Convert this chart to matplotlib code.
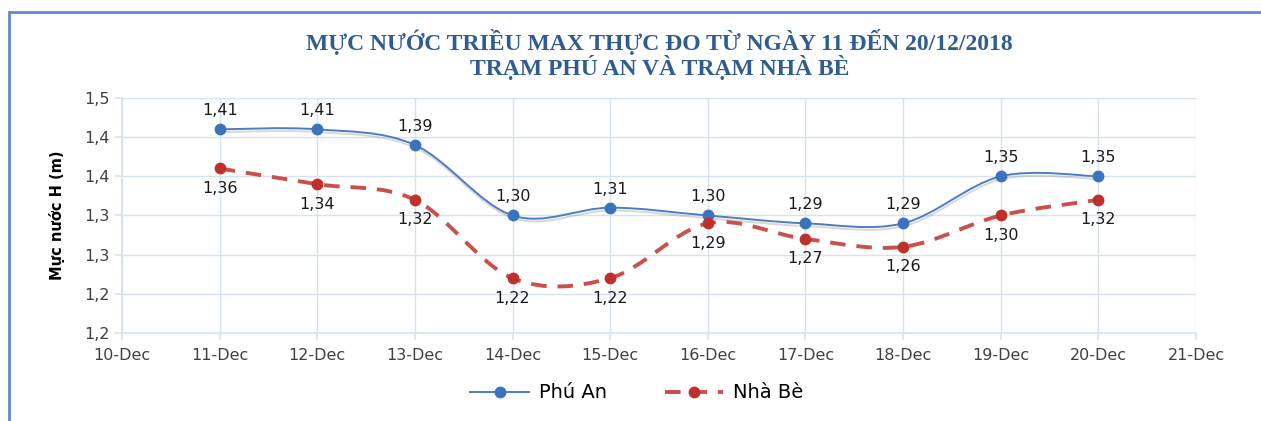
import matplotlib
matplotlib.use("Agg")
import matplotlib.pyplot as plt
import matplotlib.patheffects as pe
from matplotlib.lines import Line2D
from matplotlib.patches import PathPatch, Rectangle
from matplotlib.path import Path

days = [11, 12, 13, 14, 15, 16, 17, 18, 19, 20]
phu_an = [1.41, 1.41, 1.39, 1.30, 1.31, 1.30, 1.29, 1.29, 1.35, 1.35]
nha_be = [1.36, 1.34, 1.32, 1.22, 1.22, 1.29, 1.27, 1.26, 1.30, 1.32]
x_ticks = list(range(10, 22))
x_labels = [f"{d}-Dec" for d in x_ticks]
y_ticks = [1.15, 1.20, 1.25, 1.30, 1.35, 1.40, 1.45]
y_labels = ["1,2", "1,2", "1,3", "1,3", "1,4", "1,4", "1,5"]

BLUE = "#4A7EC2"
BLUE_MARK = "#3B73BF"
RED = "#C9504C"
RED_MARK = "#C0302B"
GRID = "#D6E2F2"
TEXT = "#404040"


def smooth_path(xs, ys):
    # Excel-like smoothed line: cubic Bezier through every point
    pts = list(zip(xs, ys))
    verts = [pts[0]]
    codes = [Path.MOVETO]
    n = len(pts)
    for i in range(n - 1):
        p0 = pts[i - 1] if i > 0 else pts[i]
        p1 = pts[i]
        p2 = pts[i + 1]
        p3 = pts[i + 2] if i + 2 < n else pts[i + 1]
        c1 = (p1[0] + (p2[0] - p0[0]) / 6, p1[1] + (p2[1] - p0[1]) / 6)
        c2 = (p2[0] - (p3[0] - p1[0]) / 6, p2[1] - (p3[1] - p1[1]) / 6)
        verts += [c1, c2, p2]
        codes += [Path.CURVE4] * 3
    return Path(verts, codes)


def fmt(v):
    return f"{v:.2f}".replace(".", ",")


fig = plt.figure(figsize=(12.61, 4.21), dpi=100)
fig.patches.append(Rectangle((9 / 1261, -0.1), 1.2, 1 - 12 / 421 + 0.1,
                             transform=fig.transFigure, fill=False,
                             edgecolor="#5B8BD0", linewidth=2))
ax = fig.add_axes([122 / 1261, 1 - 333 / 421, (1196 - 122) / 1261, (333 - 98) / 421])

ax.set_xlim(10, 21)
ax.set_ylim(1.15, 1.45)
ax.set_xticks(x_ticks)
ax.set_xticklabels(x_labels)
ax.set_yticks(y_ticks)
ax.set_yticklabels(y_labels)
ax.grid(True, color=GRID, linewidth=1)
ax.set_axisbelow(True)
for side in ("top", "right"):
    ax.spines[side].set_visible(False)
for side in ("left", "bottom"):
    ax.spines[side].set_color(GRID)
    ax.spines[side].set_linewidth(1.2)
ax.tick_params(colors=GRID, labelcolor=TEXT, labelsize=11.5, length=5, width=1.2)
ax.tick_params(axis="x", pad=6)
ax.tick_params(axis="y", pad=4)

shadow = [pe.SimpleLineShadow(offset=(0.5, -2), shadow_color="#808080", alpha=0.3),
          pe.Normal()]
ax.add_patch(PathPatch(smooth_path(days, phu_an), fill=False, edgecolor=BLUE,
                       linewidth=1.4, path_effects=shadow, zorder=3))
ax.add_patch(PathPatch(smooth_path(days, nha_be), fill=False, edgecolor=RED,
                       linewidth=2.8, linestyle=(0, (4.0, 2.8)), zorder=3))
ax.plot(days, phu_an, "o", color=BLUE_MARK, markersize=7.5, zorder=4)
ax.plot(days, nha_be, "o", color=RED_MARK, markersize=7.5, zorder=4)

for d, v in zip(days, phu_an):
    ax.annotate(fmt(v), (d, v), xytext=(0, 8), textcoords="offset points",
                ha="center", va="bottom", fontsize=11.5, color="#1a1a1a")
for d, v in zip(days, nha_be):
    ax.annotate(fmt(v), (d, v), xytext=(0, -9), textcoords="offset points",
                ha="center", va="top", fontsize=11.5, color="#1a1a1a")

ax.set_ylabel("Mực nước H (m)", fontsize=10.5, fontweight="bold", color="black",
              labelpad=14)

fig.text(0.523, 1 - 42 / 421, "MỰC NƯỚC TRIỀU MAX THỰC ĐO TỪ NGÀY 11 ĐẾN 20/12/2018",
         ha="center", va="center", family="Liberation Serif", fontweight="bold",
         fontsize=17, color="#2F5C91")
fig.text(0.523, 1 - 67 / 421, "TRẠM PHÚ AN VÀ TRẠM NHÀ BÈ",
         ha="center", va="center", family="Liberation Serif", fontweight="bold",
         fontsize=17, color="#2F5C91")

handles = [
    Line2D([], [], color=BLUE, linewidth=1.4, marker="o", markersize=7.5,
           markerfacecolor=BLUE_MARK, markeredgecolor=BLUE_MARK),
    Line2D([], [], color=RED, linewidth=2.8, linestyle=(0, (4.0, 2.8)), marker="o",
           markersize=7.5, markerfacecolor=RED_MARK, markeredgecolor=RED_MARK),
]
fig.legend(handles, ["Phú An", "Nhà Bè"], loc="center", bbox_to_anchor=(0.505, 1 - 393 / 421),
           ncol=2, frameon=False, fontsize=14, handlelength=3.0, columnspacing=3.0,
           handletextpad=0.5)

fig.savefig("out.png", dpi=100)
